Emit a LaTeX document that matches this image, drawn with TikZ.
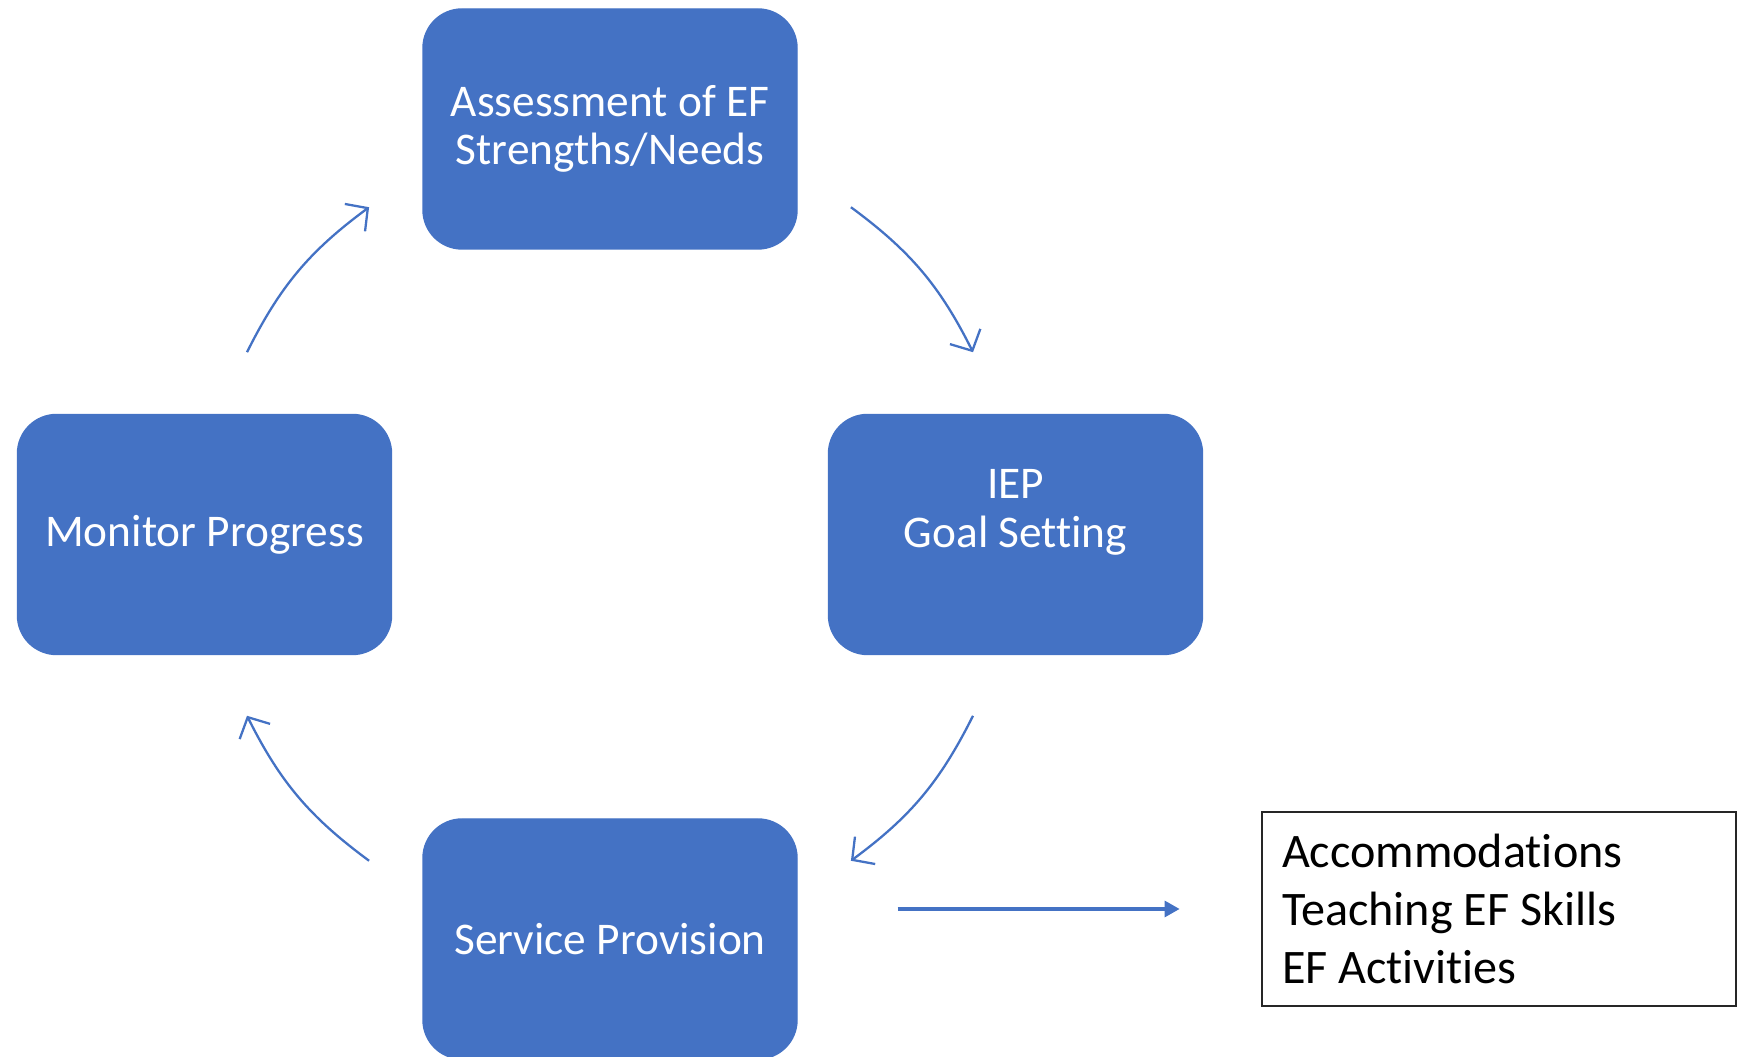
\documentclass[tikz,border=0pt]{standalone}
\usepackage{fontspec}
\setmainfont{Carlito}[Ligatures={NoCommon,NoContextual}]
\usepackage{xcolor}
\usetikzlibrary{arrows.meta,positioning,calc}
\definecolor{stageblue}{HTML}{4472C4}

\begin{document}
\begin{tikzpicture}[
    stage/.style={rectangle, rounded corners=0.39cm, fill=stageblue, draw=stageblue, text=white, minimum width=3.74cm, minimum height=2.40cm, align=center, font=\fontsize{12.9}{13.7}\selectfont},
    cyc/.style={-{Straight Barb[length=1.6mm, width=3.4mm]}, draw=stageblue, line width=0.65pt},
    flow/.style={-{Triangle[length=1.5mm, width=1.6mm]}, draw=stageblue, line width=0.9pt}
]
\useasboundingbox (0,0) rectangle (17.47,10.57);

% Cycle stages
\node[stage] (asse) at (6.10,9.28) {Assessment of EF\\Strengths/Needs};
\node[stage] (iep) at (10.155,5.225) {IEP\\Goal Setting\\[-3pt]\strut};
\node[stage] (serv) at (6.10,1.18) {Service Provision};
\node[stage] (mon) at (2.045,5.225) {Monitor Progress};

% Service list
\node[rectangle, draw=black!85, line width=0.8pt, minimum width=4.74cm, minimum height=1.94cm, text width=4.34cm, align=flush left, font=\fontsize{13.7}{16.5}\selectfont] (acts) at (14.99,1.48) {Accommodations\\Teaching EF Skills\\EF Activities};

% Arc end points
\coordinate (mid) at ($(asse)!0.5!(serv)$);
\coordinate (a1) at ($(mid)+(53.6:4.06)$);
\coordinate (a2) at ($(mid)+(26.6:4.06)$);
\coordinate (b1) at ($(mid)+(-26.6:4.06)$);
\coordinate (b2) at ($(mid)+(-53.6:4.06)$);
\coordinate (c1) at ($(mid)+(233.6:4.06)$);
\coordinate (c2) at ($(mid)+(206.6:4.06)$);
\coordinate (d1) at ($(mid)+(153.4:4.06)$);
\coordinate (d2) at ($(mid)+(126.4:4.06)$);

% Arrows
\draw[cyc] (a1) to[bend left=13.5] (a2);
\draw[cyc] (b1) to[bend left=13.5] (b2);
\draw[cyc] (c1) to[bend left=13.5] (c2);
\draw[cyc] (d1) to[bend left=13.5] (d2);
\draw[flow] ($(serv.east |- acts.west)+(1,0)$) -- ($(acts.west)+(-0.81,0)$);

\end{tikzpicture}
\end{document}
